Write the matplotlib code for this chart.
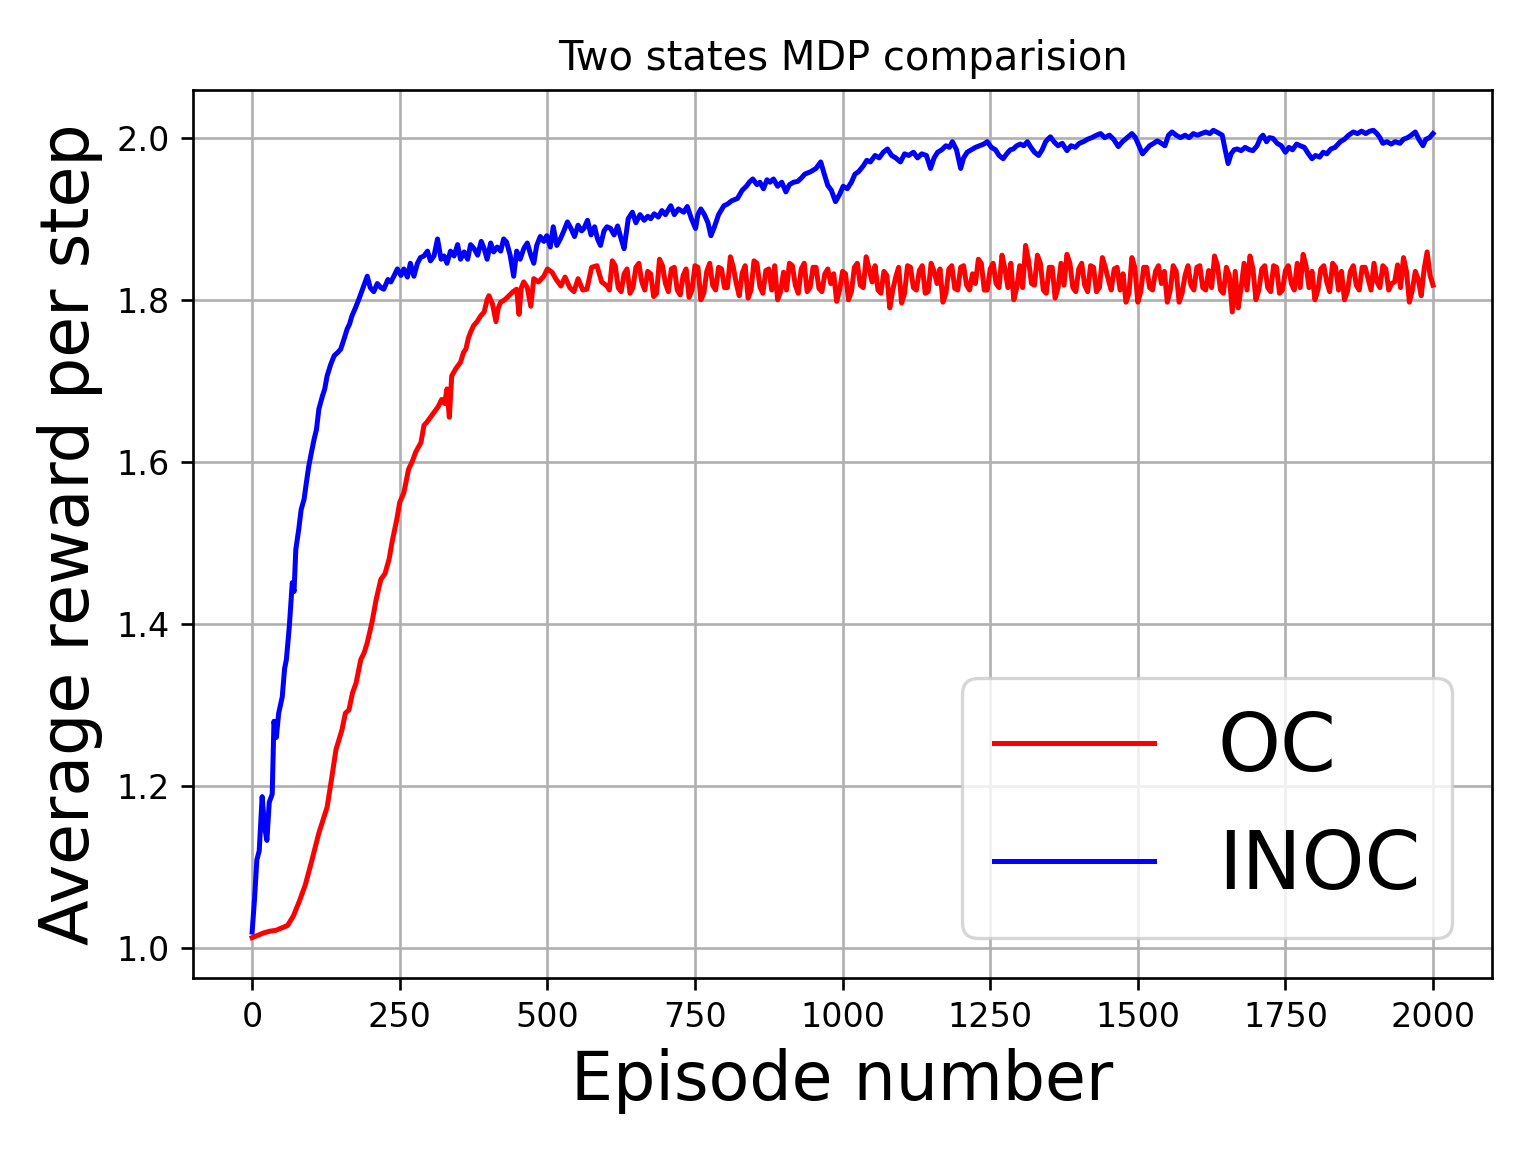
import numpy as np
import matplotlib
matplotlib.use("Agg")
import matplotlib.pyplot as plt

# ---------------------------------------------------------------------------
# Data (episode, average reward per step)

oc_rise = [
    (0, 1.013), (10, 1.016), (20, 1.019), (30, 1.021), (40, 1.022), (50, 1.025),
    (60, 1.028), (70, 1.040), (80, 1.058), (90, 1.078), (100, 1.105), (113, 1.142),
    (120, 1.158), (127, 1.174), (135, 1.211), (142, 1.245), (152, 1.269), (158, 1.290),
    (164, 1.294), (170, 1.315), (176, 1.327), (184, 1.356), (190, 1.365), (195, 1.377),
    (203, 1.402), (210, 1.430), (218, 1.455), (225, 1.462), (232, 1.480), (237, 1.501),
    (245, 1.529), (250, 1.550), (257, 1.562), (265, 1.591), (271, 1.600), (277, 1.612),
    (286, 1.624), (291, 1.645), (296, 1.649), (302, 1.655), (308, 1.661), (315, 1.668),
    (321, 1.677), (326, 1.672), (330, 1.690), (334, 1.655), (338, 1.706), (345, 1.715),
    (353, 1.723), (358, 1.735), (362, 1.739), (366, 1.752), (370, 1.760), (375, 1.768),
    (381, 1.773), (387, 1.780), (393, 1.785), (398, 1.800), (401, 1.805), (407, 1.795),
    (413, 1.773), (417, 1.790), (421, 1.797), (428, 1.800), (435, 1.805), (442, 1.810),
    (448, 1.813), (452, 1.782), (456, 1.815), (460, 1.822), (466, 1.815), (472, 1.792),
    (477, 1.826), (485, 1.822), (494, 1.829), (500, 1.838), (508, 1.834), (515, 1.825),
    (523, 1.817), (530, 1.828), (538, 1.815), (545, 1.810), (552, 1.826), (560, 1.812),
    (567, 1.813), (575, 1.840), (584, 1.842), (592, 1.822), (601, 1.817),
]

# plateau, episodes 610, 620, ..., 2000
oc_plateau = [
    1.848, 1.815, 1.832, 1.808, 1.840, 1.822, 1.835, 1.804, 1.850, 1.820,
    1.838, 1.812, 1.830, 1.803, 1.842, 1.800, 1.835, 1.818, 1.840, 1.815,
    1.853, 1.820, 1.833, 1.802, 1.848, 1.816, 1.836, 1.812, 1.800, 1.834,
    1.845, 1.818, 1.838, 1.810, 1.840, 1.814, 1.832, 1.820, 1.798, 1.835,
    1.800, 1.840, 1.818, 1.853, 1.822, 1.812, 1.835, 1.790, 1.828, 1.796,
    1.842, 1.815, 1.836, 1.808, 1.845, 1.820, 1.797, 1.838, 1.814, 1.840,
    1.818, 1.832, 1.850, 1.812, 1.838, 1.820, 1.855, 1.815, 1.800, 1.842,
    1.867, 1.820, 1.855, 1.812, 1.840, 1.802, 1.845, 1.856, 1.815, 1.838,
    1.818, 1.842, 1.810, 1.852, 1.825, 1.838, 1.812, 1.797, 1.852, 1.797,
    1.840, 1.815, 1.835, 1.820, 1.797, 1.842, 1.797, 1.830, 1.818, 1.840,
    1.815, 1.836, 1.854, 1.812, 1.840, 1.785, 1.790, 1.845, 1.854, 1.800,
    1.838, 1.815, 1.842, 1.808, 1.836, 1.820, 1.845, 1.856, 1.815, 1.800,
    1.838, 1.822, 1.845, 1.812, 1.800, 1.835, 1.818, 1.840, 1.826, 1.845,
    1.815, 1.838, 1.820, 1.843, 1.852, 1.797, 1.835, 1.805, 1.859, 1.818,
]

# plateau, in-between episodes 605, 615, ..., 1995
oc_plateau_mid = [
    1.812, 1.842, 1.810, 1.838, 1.815, 1.845, 1.812, 1.832, 1.808, 1.842,
    1.810, 1.840, 1.806, 1.838, 1.812, 1.840, 1.808, 1.845, 1.812, 1.838,
    1.815, 1.840, 1.805, 1.842, 1.812, 1.845, 1.808, 1.838, 1.842, 1.810,
    1.812, 1.842, 1.808, 1.845, 1.815, 1.840, 1.810, 1.838, 1.832, 1.812,
    1.832, 1.810, 1.845, 1.815, 1.838, 1.842, 1.808, 1.830, 1.812, 1.840,
    1.808, 1.840, 1.812, 1.842, 1.810, 1.835, 1.838, 1.808, 1.842, 1.812,
    1.842, 1.812, 1.820, 1.845, 1.812, 1.845, 1.815, 1.838, 1.845, 1.815,
    1.815, 1.848, 1.818, 1.845, 1.808, 1.840, 1.815, 1.818, 1.845, 1.810,
    1.845, 1.810, 1.840, 1.815, 1.840, 1.812, 1.840, 1.832, 1.808, 1.840,
    1.810, 1.840, 1.812, 1.842, 1.835, 1.812, 1.835, 1.808, 1.842, 1.812,
    1.842, 1.812, 1.815, 1.842, 1.808, 1.830, 1.835, 1.815, 1.812, 1.838,
    1.812, 1.842, 1.810, 1.840, 1.812, 1.842, 1.812, 1.815, 1.842, 1.835,
    1.812, 1.842, 1.810, 1.840, 1.835, 1.810, 1.842, 1.812, 1.840, 1.812,
    1.822, 1.842, 1.812, 1.822, 1.815, 1.835, 1.812, 1.825, 1.838, 1.830,
]

inoc_points = [
    (0, 1.020), (4, 1.060), (8, 1.109), (12, 1.120), (17, 1.187), (21, 1.150),
    (25, 1.133), (29, 1.180), (34, 1.190), (37, 1.280), (41, 1.260), (45, 1.290),
    (51, 1.310), (55, 1.345), (58, 1.356), (63, 1.397), (68, 1.451), (71, 1.440),
    (74, 1.492), (79, 1.517), (83, 1.541), (88, 1.554), (92, 1.575), (96, 1.595),
    (100, 1.610), (105, 1.628), (109, 1.640), (113, 1.665), (119, 1.681), (123, 1.690),
    (127, 1.706), (133, 1.720), (139, 1.731), (145, 1.735), (150, 1.739), (155, 1.750),
    (161, 1.764), (165, 1.770), (169, 1.780), (175, 1.790), (181, 1.801), (188, 1.815),
    (195, 1.829), (200, 1.815), (206, 1.810), (212, 1.820), (218, 1.815), (223, 1.813),
    (230, 1.825), (235, 1.822), (240, 1.829), (246, 1.838), (252, 1.830), (257, 1.838),
    (263, 1.828), (268, 1.845), (274, 1.829), (280, 1.845), (285, 1.852), (291, 1.854),
    (297, 1.860), (302, 1.848), (308, 1.854), (314, 1.875), (320, 1.850), (325, 1.854),
    (330, 1.845), (336, 1.860), (342, 1.854), (348, 1.868), (353, 1.850), (359, 1.859),
    (365, 1.850), (370, 1.868), (376, 1.863), (382, 1.855), (388, 1.872), (393, 1.863),
    (398, 1.850), (404, 1.870), (409, 1.859), (415, 1.865), (421, 1.860), (426, 1.875),
    (431, 1.871), (437, 1.855), (443, 1.829), (448, 1.860), (454, 1.850), (460, 1.863),
    (466, 1.870), (472, 1.855), (477, 1.845), (482, 1.867), (488, 1.878), (494, 1.872),
    (499, 1.879), (505, 1.865), (510, 1.890), (516, 1.867), (522, 1.875), (528, 1.885),
    (534, 1.896), (540, 1.888), (546, 1.878), (552, 1.892), (558, 1.885), (562, 1.888),
    (568, 1.898), (574, 1.880), (580, 1.890), (585, 1.875), (590, 1.867), (596, 1.885),
    (601, 1.890), (607, 1.888), (613, 1.880), (619, 1.891), (625, 1.875), (630, 1.863),
    (637, 1.900), (644, 1.908), (650, 1.895), (657, 1.905), (664, 1.898), (670, 1.903),
    (675, 1.900), (681, 1.906), (688, 1.902), (694, 1.910), (700, 1.905), (709, 1.916),
    (715, 1.905), (722, 1.912), (731, 1.908), (737, 1.915), (744, 1.900), (751, 1.888),
    (755, 1.905), (760, 1.912), (766, 1.905), (772, 1.895), (777, 1.879), (783, 1.890),
    (790, 1.905), (799, 1.916), (805, 1.918), (812, 1.922), (822, 1.925), (830, 1.935),
    (837, 1.940), (842, 1.945), (848, 1.949), (855, 1.942), (860, 1.945), (866, 1.937),
    (872, 1.948), (877, 1.945), (883, 1.949), (890, 1.940), (897, 1.945), (904, 1.933),
    (910, 1.942), (917, 1.945), (924, 1.946), (930, 1.950), (936, 1.955), (946, 1.958),
    (955, 1.962), (963, 1.970), (969, 1.955), (975, 1.941), (981, 1.935), (988, 1.921),
    (995, 1.930), (1001, 1.940), (1008, 1.937), (1015, 1.945), (1021, 1.955), (1027, 1.958),
    (1035, 1.965), (1041, 1.972), (1047, 1.970), (1055, 1.978), (1062, 1.975), (1069, 1.982),
    (1076, 1.986), (1083, 1.978), (1090, 1.975), (1098, 1.970), (1105, 1.980), (1112, 1.978),
    (1120, 1.982), (1127, 1.975), (1134, 1.980), (1142, 1.978), (1149, 1.962), (1155, 1.975),
    (1161, 1.982), (1168, 1.985), (1175, 1.990), (1181, 1.988), (1186, 1.995), (1193, 1.985),
    (1200, 1.962), (1205, 1.975), (1211, 1.982), (1218, 1.985), (1225, 1.988), (1232, 1.990),
    (1239, 1.992), (1245, 1.995), (1252, 1.988), (1259, 1.985), (1265, 1.978), (1272, 1.974),
    (1278, 1.980), (1284, 1.985), (1289, 1.986), (1295, 1.990), (1301, 1.992), (1307, 1.990),
    (1313, 1.995), (1319, 1.988), (1325, 1.982), (1332, 1.978), (1338, 1.985), (1344, 1.995),
    (1349, 1.999), (1352, 2.001), (1358, 1.995), (1365, 1.990), (1372, 1.993), (1380, 1.984),
    (1387, 1.990), (1394, 1.988), (1401, 1.993), (1408, 1.995), (1415, 1.998), (1422, 2.000),
    (1430, 2.003), (1437, 2.005), (1444, 2.000), (1452, 2.003), (1459, 1.998), (1467, 1.989),
    (1474, 1.995), (1482, 2.000), (1490, 2.005), (1496, 2.000), (1502, 1.990), (1508, 1.980),
    (1514, 1.985), (1520, 1.990), (1527, 1.993), (1533, 1.996), (1540, 1.993), (1546, 1.990),
    (1552, 2.003), (1558, 2.007), (1565, 2.003), (1572, 2.000), (1580, 2.003), (1587, 2.000),
    (1594, 2.005), (1601, 2.003), (1608, 2.005), (1615, 2.007), (1622, 2.005), (1628, 2.009),
    (1636, 2.006), (1643, 2.003), (1648, 1.985), (1653, 1.968), (1658, 1.980), (1663, 1.985),
    (1668, 1.986), (1675, 1.984), (1682, 1.988), (1689, 1.985), (1695, 1.984), (1702, 1.990),
    (1708, 2.000), (1712, 2.003), (1718, 1.995), (1723, 2.000), (1729, 1.999), (1736, 1.993),
    (1743, 1.990), (1750, 1.982), (1756, 1.988), (1762, 1.985), (1769, 1.992), (1775, 1.990),
    (1782, 1.988), (1789, 1.980), (1795, 1.974), (1801, 1.978), (1808, 1.976), (1814, 1.982),
    (1820, 1.980), (1827, 1.986), (1834, 1.988), (1843, 1.995), (1850, 1.998), (1857, 2.003),
    (1865, 2.007), (1872, 2.005), (1879, 2.008), (1886, 2.005), (1893, 2.008), (1899, 2.009),
    (1905, 2.005), (1910, 2.000), (1915, 1.993), (1922, 1.995), (1929, 1.992), (1936, 1.995),
    (1944, 1.993), (1950, 1.998), (1957, 2.000), (1963, 2.003), (1970, 2.007), (1976, 1.998),
    (1983, 1.990), (1988, 1.998), (1994, 2.000), (2000, 2.005),
]

# ---------------------------------------------------------------------------

oc_plateau_ep = np.arange(605, 2001, 5)
oc_plateau_all = np.column_stack((oc_plateau_mid, oc_plateau)).ravel()

oc_ep = np.concatenate([[p[0] for p in oc_rise], oc_plateau_ep])
oc_r = np.concatenate([[p[1] for p in oc_rise], oc_plateau_all])
inoc_ep = np.array([p[0] for p in inoc_points])
inoc_r = np.array([p[1] for p in inoc_points])

fig, ax = plt.subplots(figsize=(6.4, 4.8), dpi=240)
fig.subplots_adjust(left=0.1257, right=0.9714, top=0.9219, bottom=0.151)

ax.plot(oc_ep, oc_r, color='red', linewidth=1.5, label='OC')
ax.plot(inoc_ep, inoc_r, color='blue', linewidth=1.5, label='INOC')

ax.set_title('Two states MDP comparision', fontsize=12)
ax.set_xlabel('Episode number', fontsize=20)
ax.set_ylabel('Average reward per step', fontsize=20)
ax.set_xticks([0, 250, 500, 750, 1000, 1250, 1500, 1750, 2000])
ax.set_yticks([1.0, 1.2, 1.4, 1.6, 1.8, 2.0])
ax.grid(True)
ax.legend(loc='lower right', fontsize=24)

plt.savefig('out.png', dpi=240)
